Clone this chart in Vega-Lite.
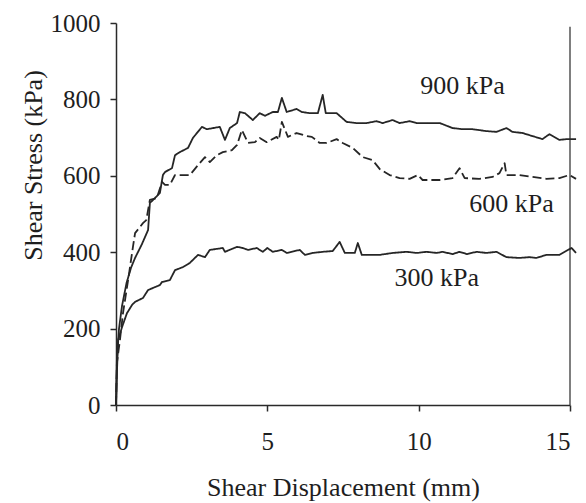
{
  "$schema": "https://vega.github.io/schema/vega-lite/v6.json",
  "width": 454,
  "height": 382,
  "autosize": "none",
  "padding": {"left": 116, "top": 23, "right": 16, "bottom": 98},
  "background": "white",
  "config": {
    "view": {"stroke": null},
    "font": "Liberation Serif",
    "axis": {
      "grid": false,
      "domainColor": "#2a2a2a",
      "domainWidth": 1.5,
      "tickColor": "#2a2a2a",
      "tickWidth": 1.5,
      "tickSize": 6,
      "labelColor": "#1e1e1e",
      "labelFont": "Liberation Serif",
      "labelFontSize": 25,
      "titleColor": "#1e1e1e",
      "titleFont": "Liberation Serif",
      "titleFontSize": 26,
      "titleFontWeight": "normal"
    }
  },
  "datasets": {
    "curves": [
      {"series": "900 kPa", "x": 0, "y": 0},
      {"series": "900 kPa", "x": 0.03, "y": 120},
      {"series": "900 kPa", "x": 0.1, "y": 200},
      {"series": "900 kPa", "x": 0.2, "y": 260},
      {"series": "900 kPa", "x": 0.35, "y": 320},
      {"series": "900 kPa", "x": 0.5, "y": 360},
      {"series": "900 kPa", "x": 0.63, "y": 385},
      {"series": "900 kPa", "x": 0.85, "y": 420},
      {"series": "900 kPa", "x": 1.06, "y": 458},
      {"series": "900 kPa", "x": 1.12, "y": 529},
      {"series": "900 kPa", "x": 1.29, "y": 542},
      {"series": "900 kPa", "x": 1.45, "y": 555},
      {"series": "900 kPa", "x": 1.55, "y": 602},
      {"series": "900 kPa", "x": 1.62, "y": 610},
      {"series": "900 kPa", "x": 1.85, "y": 620},
      {"series": "900 kPa", "x": 1.95, "y": 654},
      {"series": "900 kPa", "x": 2.11, "y": 662},
      {"series": "900 kPa", "x": 2.38, "y": 673},
      {"series": "900 kPa", "x": 2.54, "y": 699},
      {"series": "900 kPa", "x": 2.84, "y": 728},
      {"series": "900 kPa", "x": 3.0, "y": 722},
      {"series": "900 kPa", "x": 3.43, "y": 728},
      {"series": "900 kPa", "x": 3.6, "y": 694},
      {"series": "900 kPa", "x": 3.76, "y": 725},
      {"series": "900 kPa", "x": 4.0, "y": 738},
      {"series": "900 kPa", "x": 4.09, "y": 767},
      {"series": "900 kPa", "x": 4.26, "y": 764},
      {"series": "900 kPa", "x": 4.52, "y": 746},
      {"series": "900 kPa", "x": 4.75, "y": 764},
      {"series": "900 kPa", "x": 4.92, "y": 757},
      {"series": "900 kPa", "x": 5.18, "y": 767},
      {"series": "900 kPa", "x": 5.35, "y": 767},
      {"series": "900 kPa", "x": 5.48, "y": 804},
      {"series": "900 kPa", "x": 5.64, "y": 767},
      {"series": "900 kPa", "x": 5.97, "y": 775},
      {"series": "900 kPa", "x": 6.14, "y": 767},
      {"series": "900 kPa", "x": 6.4, "y": 764},
      {"series": "900 kPa", "x": 6.67, "y": 764},
      {"series": "900 kPa", "x": 6.83, "y": 812},
      {"series": "900 kPa", "x": 6.93, "y": 764},
      {"series": "900 kPa", "x": 7.29, "y": 764},
      {"series": "900 kPa", "x": 7.62, "y": 741},
      {"series": "900 kPa", "x": 7.95, "y": 738},
      {"series": "900 kPa", "x": 8.28, "y": 738},
      {"series": "900 kPa", "x": 8.61, "y": 743},
      {"series": "900 kPa", "x": 8.81, "y": 738},
      {"series": "900 kPa", "x": 9.14, "y": 746},
      {"series": "900 kPa", "x": 9.37, "y": 738},
      {"series": "900 kPa", "x": 9.7, "y": 743},
      {"series": "900 kPa", "x": 9.93, "y": 738},
      {"series": "900 kPa", "x": 10.36, "y": 738},
      {"series": "900 kPa", "x": 10.7, "y": 738},
      {"series": "900 kPa", "x": 11.12, "y": 725},
      {"series": "900 kPa", "x": 11.45, "y": 722},
      {"series": "900 kPa", "x": 11.78, "y": 722},
      {"series": "900 kPa", "x": 12.24, "y": 717},
      {"series": "900 kPa", "x": 12.57, "y": 715},
      {"series": "900 kPa", "x": 12.9, "y": 725},
      {"series": "900 kPa", "x": 13.1, "y": 715},
      {"series": "900 kPa", "x": 13.43, "y": 712},
      {"series": "900 kPa", "x": 13.76, "y": 704},
      {"series": "900 kPa", "x": 14.09, "y": 696},
      {"series": "900 kPa", "x": 14.32, "y": 709},
      {"series": "900 kPa", "x": 14.65, "y": 694},
      {"series": "900 kPa", "x": 14.88, "y": 696},
      {"series": "900 kPa", "x": 15.2, "y": 696},

      {"series": "600 kPa", "x": 0, "y": 0},
      {"series": "600 kPa", "x": 0.03, "y": 110},
      {"series": "600 kPa", "x": 0.13, "y": 170},
      {"series": "600 kPa", "x": 0.23, "y": 240},
      {"series": "600 kPa", "x": 0.4, "y": 327},
      {"series": "600 kPa", "x": 0.56, "y": 414},
      {"series": "600 kPa", "x": 0.63, "y": 450},
      {"series": "600 kPa", "x": 0.89, "y": 476},
      {"series": "600 kPa", "x": 1.0, "y": 484},
      {"series": "600 kPa", "x": 1.12, "y": 537},
      {"series": "600 kPa", "x": 1.35, "y": 542},
      {"series": "600 kPa", "x": 1.52, "y": 584},
      {"series": "600 kPa", "x": 1.62, "y": 576},
      {"series": "600 kPa", "x": 1.78, "y": 576},
      {"series": "600 kPa", "x": 1.95, "y": 602},
      {"series": "600 kPa", "x": 2.44, "y": 602},
      {"series": "600 kPa", "x": 2.71, "y": 628},
      {"series": "600 kPa", "x": 2.94, "y": 649},
      {"series": "600 kPa", "x": 3.1, "y": 636},
      {"series": "600 kPa", "x": 3.33, "y": 654},
      {"series": "600 kPa", "x": 3.53, "y": 662},
      {"series": "600 kPa", "x": 3.83, "y": 667},
      {"series": "600 kPa", "x": 4.0, "y": 681},
      {"series": "600 kPa", "x": 4.16, "y": 720},
      {"series": "600 kPa", "x": 4.36, "y": 686},
      {"series": "600 kPa", "x": 4.59, "y": 688},
      {"series": "600 kPa", "x": 4.75, "y": 699},
      {"series": "600 kPa", "x": 4.98, "y": 688},
      {"series": "600 kPa", "x": 5.31, "y": 702},
      {"series": "600 kPa", "x": 5.38, "y": 694},
      {"series": "600 kPa", "x": 5.48, "y": 741},
      {"series": "600 kPa", "x": 5.68, "y": 702},
      {"series": "600 kPa", "x": 5.97, "y": 712},
      {"series": "600 kPa", "x": 6.3, "y": 704},
      {"series": "600 kPa", "x": 6.47, "y": 702},
      {"series": "600 kPa", "x": 6.73, "y": 686},
      {"series": "600 kPa", "x": 6.96, "y": 686},
      {"series": "600 kPa", "x": 7.29, "y": 696},
      {"series": "600 kPa", "x": 7.49, "y": 686},
      {"series": "600 kPa", "x": 7.82, "y": 673},
      {"series": "600 kPa", "x": 8.15, "y": 649},
      {"series": "600 kPa", "x": 8.48, "y": 641},
      {"series": "600 kPa", "x": 8.71, "y": 618},
      {"series": "600 kPa", "x": 9.04, "y": 602},
      {"series": "600 kPa", "x": 9.37, "y": 594},
      {"series": "600 kPa", "x": 9.7, "y": 592},
      {"series": "600 kPa", "x": 9.97, "y": 602},
      {"series": "600 kPa", "x": 10.13, "y": 589},
      {"series": "600 kPa", "x": 10.69, "y": 589},
      {"series": "600 kPa", "x": 11.12, "y": 594},
      {"series": "600 kPa", "x": 11.35, "y": 620},
      {"series": "600 kPa", "x": 11.52, "y": 594},
      {"series": "600 kPa", "x": 12.0, "y": 592},
      {"series": "600 kPa", "x": 12.44, "y": 597},
      {"series": "600 kPa", "x": 12.67, "y": 607},
      {"series": "600 kPa", "x": 12.84, "y": 633},
      {"series": "600 kPa", "x": 12.9, "y": 602},
      {"series": "600 kPa", "x": 13.33, "y": 602},
      {"series": "600 kPa", "x": 13.76, "y": 597},
      {"series": "600 kPa", "x": 14.22, "y": 592},
      {"series": "600 kPa", "x": 14.65, "y": 594},
      {"series": "600 kPa", "x": 14.98, "y": 602},
      {"series": "600 kPa", "x": 15.2, "y": 592},

      {"series": "300 kPa", "x": 0, "y": 0},
      {"series": "300 kPa", "x": 0.03, "y": 84},
      {"series": "300 kPa", "x": 0.07, "y": 170},
      {"series": "300 kPa", "x": 0.2, "y": 204},
      {"series": "300 kPa", "x": 0.36, "y": 240},
      {"series": "300 kPa", "x": 0.53, "y": 262},
      {"series": "300 kPa", "x": 0.63, "y": 270},
      {"series": "300 kPa", "x": 0.89, "y": 280},
      {"series": "300 kPa", "x": 1.06, "y": 301},
      {"series": "300 kPa", "x": 1.45, "y": 314},
      {"series": "300 kPa", "x": 1.52, "y": 322},
      {"series": "300 kPa", "x": 1.78, "y": 327},
      {"series": "300 kPa", "x": 1.95, "y": 353},
      {"series": "300 kPa", "x": 2.21, "y": 361},
      {"series": "300 kPa", "x": 2.44, "y": 372},
      {"series": "300 kPa", "x": 2.71, "y": 393},
      {"series": "300 kPa", "x": 2.94, "y": 387},
      {"series": "300 kPa", "x": 3.1, "y": 406},
      {"series": "300 kPa", "x": 3.53, "y": 411},
      {"series": "300 kPa", "x": 3.6, "y": 401},
      {"series": "300 kPa", "x": 4.0, "y": 414},
      {"series": "300 kPa", "x": 4.19, "y": 411},
      {"series": "300 kPa", "x": 4.36, "y": 406},
      {"series": "300 kPa", "x": 4.65, "y": 411},
      {"series": "300 kPa", "x": 4.85, "y": 401},
      {"series": "300 kPa", "x": 5.0, "y": 411},
      {"series": "300 kPa", "x": 5.18, "y": 401},
      {"series": "300 kPa", "x": 5.48, "y": 406},
      {"series": "300 kPa", "x": 5.64, "y": 398},
      {"series": "300 kPa", "x": 6.07, "y": 406},
      {"series": "300 kPa", "x": 6.24, "y": 393},
      {"series": "300 kPa", "x": 6.5, "y": 398},
      {"series": "300 kPa", "x": 6.83, "y": 401},
      {"series": "300 kPa", "x": 7.16, "y": 403},
      {"series": "300 kPa", "x": 7.39, "y": 427},
      {"series": "300 kPa", "x": 7.56, "y": 398},
      {"series": "300 kPa", "x": 7.89, "y": 398},
      {"series": "300 kPa", "x": 7.99, "y": 424},
      {"series": "300 kPa", "x": 8.12, "y": 393},
      {"series": "300 kPa", "x": 8.71, "y": 393},
      {"series": "300 kPa", "x": 9.14, "y": 398},
      {"series": "300 kPa", "x": 9.6, "y": 401},
      {"series": "300 kPa", "x": 9.93, "y": 398},
      {"series": "300 kPa", "x": 10.26, "y": 401},
      {"series": "300 kPa", "x": 10.6, "y": 398},
      {"series": "300 kPa", "x": 10.79, "y": 401},
      {"series": "300 kPa", "x": 11.12, "y": 395},
      {"series": "300 kPa", "x": 11.35, "y": 401},
      {"series": "300 kPa", "x": 11.6, "y": 395},
      {"series": "300 kPa", "x": 11.91, "y": 401},
      {"series": "300 kPa", "x": 12.24, "y": 398},
      {"series": "300 kPa", "x": 12.57, "y": 401},
      {"series": "300 kPa", "x": 12.9, "y": 387},
      {"series": "300 kPa", "x": 13.33, "y": 385},
      {"series": "300 kPa", "x": 13.66, "y": 387},
      {"series": "300 kPa", "x": 13.89, "y": 385},
      {"series": "300 kPa", "x": 14.22, "y": 393},
      {"series": "300 kPa", "x": 14.65, "y": 393},
      {"series": "300 kPa", "x": 15.05, "y": 411},
      {"series": "300 kPa", "x": 15.2, "y": 398}
    ],
    "labels": [
      {"label": "900 kPa", "x": 11.45, "y": 835},
      {"label": "600 kPa", "x": 13.07, "y": 527},
      {"label": "300 kPa", "x": 10.6, "y": 333}
    ],
    "frame": [
      {"x": 15, "y": 0, "y2": 990}
    ]
  },
  "layer": [
    {
      "data": {"name": "frame"},
      "mark": {"type": "rule", "color": "#3a3a3a", "strokeWidth": 1.3},
      "encoding": {
        "x": {"field": "x", "type": "quantitative"},
        "y": {"field": "y", "type": "quantitative"},
        "y2": {"field": "y2"}
      }
    },
    {
      "data": {"name": "curves"},
      "mark": {"type": "line", "color": "#262626", "strokeWidth": 1.8, "strokeJoin": "round"},
      "encoding": {
        "x": {
          "field": "x",
          "type": "quantitative",
          "scale": {"domain": [0, 15], "nice": false, "zero": false},
          "axis": {
            "values": [0, 5, 10, 15],
            "format": "d",
            "title": "Shear Displacement (mm)",
            "labelPadding": 18,
            "titleY": 82,
            "titleBaseline": "middle"
          }
        },
        "y": {
          "field": "y",
          "type": "quantitative",
          "scale": {"domain": [0, 1000], "nice": false},
          "axis": {
            "values": [0, 200, 400, 600, 800, 1000],
            "format": "d",
            "title": "Shear Stress (kPa)",
            "labelPadding": 10,
            "titleAngle": -90,
            "titleX": -83,
            "titleY": 142,
            "titleAlign": "center",
            "titleBaseline": "middle"
          }
        },
        "detail": {"field": "series"},
        "strokeDash": {
          "field": "series",
          "type": "nominal",
          "scale": {"domain": ["300 kPa", "600 kPa", "900 kPa"], "range": [[1, 0], [9, 4], [1, 0]]},
          "legend": null
        }
      }
    },
    {
      "data": {"name": "labels"},
      "mark": {"type": "text", "font": "Liberation Serif", "fontSize": 26, "color": "#1e1e1e", "align": "center", "baseline": "middle"},
      "encoding": {
        "x": {"field": "x", "type": "quantitative"},
        "y": {"field": "y", "type": "quantitative"},
        "text": {"field": "label"}
      }
    }
  ]
}
